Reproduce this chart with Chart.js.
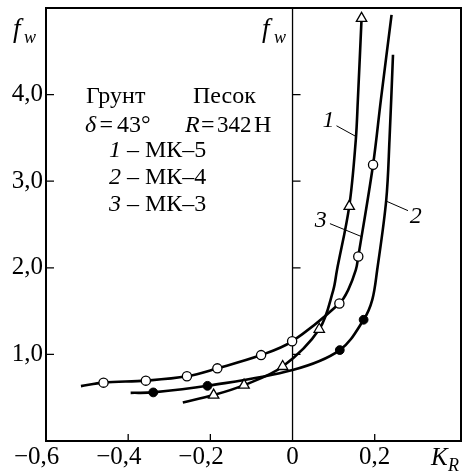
<!DOCTYPE html>
<html><head><meta charset="utf-8">
<script src="https://cdn.jsdelivr.net/npm/chart.js@4/dist/chart.umd.min.js"></script>
<style>html,body{margin:0;padding:0;background:#fff}</style>
</head><body>
<canvas id="c" width="463" height="473"></canvas>
<script>
// ---- data ----
const xTicks = [-0.6, -0.4, -0.2, 0, 0.2];
const yTicks = [1, 2, 3, 4];
const xInnerTicks = [-0.4, -0.2, 0.2];

// Curve 1 (МК-5): trace of the line and its triangle markers
const curve1X = [-0.267, -0.192, -0.118, -0.024, 0.065, 0.099, 0.108, 0.138, 0.154, 0.159, 0.168];
const curve1Y = [0.445, 0.53, 0.645, 0.86, 1.29, 1.74, 1.97, 2.71, 3.48, 3.94, 4.88];
const mark1X = [-0.192, -0.118, -0.024, 0.065, 0.138, 0.168];
const mark1Y = [0.53, 0.645, 0.86, 1.29, 2.71, 4.88];

// Curve 2 (МК-4): filled circles
const curve2X = [-0.394, -0.339, -0.207, 0, 0.115, 0.173, 0.194, 0.206, 0.228, 0.236, 0.2445];
const curve2Y = [0.556, 0.561, 0.637, 0.82, 1.05, 1.40, 1.63, 1.975, 2.78, 3.48, 4.46];
const mark2X = [-0.339, -0.207, 0.115, 0.173];
const mark2Y = [0.561, 0.637, 1.05, 1.40];

// Curve 3 (МК-3): open circles
const curve3X = [-0.515, -0.460, -0.357, -0.257, -0.183, -0.0765, -0.001, 0.114, 0.135, 0.154, 0.160, 0.196, 0.215, 0.241];
const curve3Y = [0.634, 0.674, 0.697, 0.747, 0.839, 0.992, 1.151, 1.587, 1.74, 1.975, 2.13, 3.19, 3.94, 4.92];
const mark3X = [-0.460, -0.357, -0.257, -0.183, -0.0765, -0.001, 0.114, 0.160, 0.196];
const mark3Y = [0.674, 0.697, 0.747, 0.839, 0.992, 1.151, 1.587, 2.13, 3.19];

// ---- drawing ----
const serif = '"Liberation Serif", "Times New Roman", serif';
const toPts = (xs, ys) => xs.map((x, i) => ({x: x, y: ys[i]}));
const fmt = v => {
  if (Math.abs(v) < 1e-9) return '0';
  const s = Math.abs(v).toFixed(1).replace('.', ',');
  return v < 0 ? '\u2212' + s + '\u2002 ' : s;
};

function drawRuns(ctx, x, y, parts, size) {
  let cx = x;
  for (const [t, it] of parts) {
    ctx.font = (it ? 'italic ' : '') + size + 'px ' + serif;
    ctx.fillText(t, cx, y);
    cx += ctx.measureText(t).width;
  }
}

const deco = {
  id: 'deco',
  beforeDatasetsDraw(chart) {
    const {ctx, scales: {x, y}, chartArea: a} = chart;
    ctx.save();
    ctx.strokeStyle = '#000';
    ctx.lineWidth = 1.3;
    const x0 = x.getPixelForValue(0);
    ctx.beginPath(); ctx.moveTo(x0, a.top); ctx.lineTo(x0, a.bottom); ctx.stroke();
    ctx.beginPath();
    for (const v of yTicks) {
      const py = y.getPixelForValue(v);
      ctx.moveTo(a.left, py); ctx.lineTo(a.left + 8, py);
      ctx.moveTo(x0, py); ctx.lineTo(x0 + 8, py);
    }
    for (const v of xInnerTicks) {
      const px = x.getPixelForValue(v);
      ctx.moveTo(px, a.bottom); ctx.lineTo(px, a.bottom - 7);
    }
    ctx.stroke();
    ctx.restore();
  },
  afterDraw(chart) {
    const {ctx, scales: {x, y}, chartArea: a} = chart;
    ctx.save();
    ctx.strokeStyle = '#000';
    ctx.fillStyle = '#000';
    ctx.lineWidth = 2;
    ctx.strokeRect(a.left, a.top, a.right - a.left, a.bottom - a.top);

    ctx.textBaseline = 'alphabetic';
    ctx.textAlign = 'left';
    drawRuns(ctx, 13, 37, [['f', 1]], 27);
    drawRuns(ctx, 24, 43, [['w', 1]], 18);
    drawRuns(ctx, 262, 37, [['f', 1]], 27);
    drawRuns(ctx, 274, 43, [['w', 1]], 18);
    drawRuns(ctx, 431, 465, [['K', 1]], 25);
    drawRuns(ctx, 448, 471, [['R', 1]], 18);

    drawRuns(ctx, 86, 103, [['Грунт', 0]], 24);
    drawRuns(ctx, 193, 103, [['Песок', 0]], 24);
    drawRuns(ctx, 85, 131.5, [['δ', 1]], 24);
    drawRuns(ctx, 99.5, 131.5, [['=', 0]], 24);
    drawRuns(ctx, 117, 131.5, [['43°', 0]], 24);
    drawRuns(ctx, 185, 131.5, [['R', 1]], 24);
    drawRuns(ctx, 201, 131.5, [['=', 0]], 24);
    drawRuns(ctx, 217, 131.5, [['342', 0]], 23);
    drawRuns(ctx, 254, 131.5, [['Н', 0]], 24);
    drawRuns(ctx, 109, 157, [['1', 1], [' – МК–5', 0]], 24);
    drawRuns(ctx, 109, 184, [['2', 1], [' – МК–4', 0]], 24);
    drawRuns(ctx, 109, 210.5, [['3', 1], [' – МК–3', 0]], 24);

    const P = (vx, vy) => [x.getPixelForValue(vx), y.getPixelForValue(vy)];
    const lab = (t, vx, vy) => { const [px, py] = P(vx, vy); drawRuns(ctx, px, py, [[t, 1]], 24); };
    lab('1', 0.073, 3.63);
    lab('3', 0.054, 2.47);
    lab('2', 0.285, 2.52);
    ctx.lineWidth = 1;
    const ln = (ax, ay, bx, by) => { const p = P(ax, ay), q = P(bx, by); ctx.beginPath(); ctx.moveTo(p[0], p[1]); ctx.lineTo(q[0], q[1]); ctx.stroke(); };
    ln(0.107, 3.64, 0.153, 3.52);
    ln(0.091, 2.51, 0.168, 2.36);
    ln(0.228, 2.77, 0.281, 2.66);
    ctx.restore();
  }
};

const lineDs = (xs, ys) => ({
  data: toPts(xs, ys), showLine: true, pointRadius: 0, borderColor: '#000',
  borderWidth: 2.6, tension: 0.35, fill: false, order: 1
});

new Chart(document.getElementById('c'), {
  type: 'scatter',
  data: {
    datasets: [
      {data: toPts(mark1X, mark1Y), pointStyle: 'triangle', pointRadius: 6, backgroundColor: '#fff', borderColor: '#000', borderWidth: 1.3, showLine: false, order: 0},
      {data: toPts(mark2X, mark2Y), pointStyle: 'circle', pointRadius: 4.4, backgroundColor: '#000', borderColor: '#000', borderWidth: 1, showLine: false, order: 0},
      {data: toPts(mark3X, mark3Y), pointStyle: 'circle', pointRadius: 4.6, backgroundColor: '#fff', borderColor: '#000', borderWidth: 1.3, showLine: false, order: 0},
      lineDs(curve1X, curve1Y),
      lineDs(curve2X, curve2Y),
      lineDs(curve3X, curve3Y)
    ]
  },
  options: {
    responsive: false, animation: false, devicePixelRatio: 1,
    layout: {autoPadding: false, padding: {left: 0, right: 2, top: 8, bottom: 0}},
    plugins: {legend: {display: false}, tooltip: {enabled: false}},
    scales: {
      x: {
        type: 'linear', min: -0.6, max: 0.41,
        afterBuildTicks: s => { s.ticks = xTicks.map(v => ({value: v})); },
        afterFit: s => { s.height = 32; s.paddingLeft = 0; s.paddingRight = 0; },
        grid: {display: false, drawTicks: false}, border: {display: false},
        ticks: {font: {family: serif, size: 25}, color: '#000', padding: 1, maxRotation: 0, autoSkip: false, callback: v => fmt(v)}
      },
      y: {
        type: 'linear', min: 0, max: 5,
        afterBuildTicks: s => { s.ticks = yTicks.map(v => ({value: v})); },
        afterFit: s => { s.width = 46; s.paddingTop = 0; s.paddingBottom = 0; },
        grid: {display: false, drawTicks: false}, border: {display: false},
        ticks: {font: {family: serif, size: 25}, color: '#000', padding: 3, autoSkip: false, callback: v => fmt(v)}
      }
    }
  },
  plugins: [deco]
});
</script>
</body></html>
